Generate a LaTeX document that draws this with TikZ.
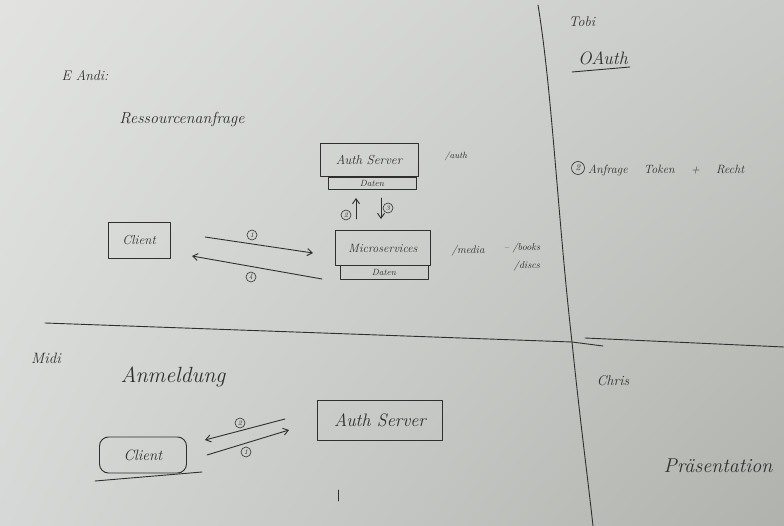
\documentclass[tikz,border=0pt]{standalone}
\usetikzlibrary{arrows.meta,shapes.misc,shadings}
\definecolor{paperA}{HTML}{E2E3E1}
\definecolor{paperB}{HTML}{C9CBC8}
\definecolor{paperC}{HTML}{D5D8D6}
\definecolor{paperD}{HTML}{B0B2AD}
\definecolor{pen}{HTML}{2E2F2E}
\newcommand{\fs}[1]{\fontsize{#1}{#1}\selectfont\itshape}
\begin{document}
\begin{tikzpicture}[x=1pt,y=-1pt,
  ink/.style={draw=pen,line width=0.9pt,line cap=round,line join=round},
  txt/.style={text=pen,inner sep=1pt},
  boxn/.style={ink,rectangle,inner sep=0pt,text=pen},
  num/.style={ink,circle,inner sep=0.5pt,minimum size=10pt,text=pen,font=\fs{7},line width=0.6pt},
  arr/.style={ink,-{Straight Barb[length=5pt,width=7pt]}}]
% paper
\shade[upper left=paperA,upper right=paperB,lower left=paperC,lower right=paperD]
  (0,0) rectangle (784,526);
\useasboundingbox (0,0) rectangle (784,526);
% dividers
\draw[ink] (45,323) -- (572,342) -- (603,346);
\draw[ink] (585,338) -- (784,347);
\draw[ink] (538,5) .. controls (552,90) and (558,220) .. (572,342) .. controls (580,420) and (588,480) .. (593,526);
% ---- top left: Andi
\node[txt,font=\fs{14}] (andi) at (85,76) {E Andi:};
\node[txt,font=\fs{16}] (ress) at (182,120) {Ressourcenanfrage};
% auth server (top)
\node[boxn,minimum width=98pt,minimum height=33pt,font=\fs{13}] (auth1) at (369,160) {Auth Server};
\node[boxn,minimum width=88pt,minimum height=12pt,font=\fs{9}] (daten1) at (372,183) {Daten};
\node[txt,font=\fs{9}] (authpath) at (456,156) {/auth};
% microservices
\node[boxn,minimum width=95pt,minimum height=35pt,font=\fs{12}] (micro) at (383,248) {Microservices};
\node[boxn,minimum width=88pt,minimum height=14pt,font=\fs{9}] (daten2) at (384,272) {Daten};
\node[txt,font=\fs{11}] (media) at (468,251) {/media};
\node[txt,font=\fs{10}] (books) at (522,248) {-- /books};
\node[txt,font=\fs{10}] (discs) at (527,266) {/discs};
% vertical arrows between micro and auth
\coordinate (upS) at (356,219);
\coordinate (upE) at (356,198);
\coordinate (dnS) at (381,198);
\coordinate (dnE) at (381,219);
\draw[arr] (upS) -- (upE);
\draw[arr] (dnS) -- (dnE);
\node[num] (n2a) at (346,215) {2};
\node[num] (n3a) at (388,208) {3};
% client (top)
\node[boxn,minimum width=62pt,minimum height=36pt,font=\fs{13}] (client1) at (139,240) {Client};
\coordinate (a1S) at (205,237);
\coordinate (a1E) at (313,253);
\coordinate (a4S) at (322,279);
\coordinate (a4E) at (192,256);
\draw[arr] (a1S) -- (a1E);
\draw[arr] (a4S) -- (a4E);
\node[num] (n1a) at (252,235) {1};
\node[num] (n4a) at (251,277) {4};
% ---- top right: Tobi
\node[txt,font=\fs{14}] (tobi) at (582,22) {Tobi};
\node[txt,font=\fs{18}] (oauth) at (603,58) {OAuth};
\coordinate (ulS) at (572,72);
\coordinate (ulE) at (630,67);
\draw[ink] (ulS) -- (ulE);
\node[num,minimum size=13pt,font=\fs{9}] (n2b) at (578,168) {2};
\node[txt,font=\fs{12},anchor=west] (anfrage) at (587,170) {Anfrage \quad Token \quad + \quad Recht};
% ---- bottom left: Midi
\node[txt,font=\fs{15}] (midi) at (46,358) {Midi};
\node[txt,font=\fs{22}] (anm) at (173,377) {Anmeldung};
\node[boxn,rounded corners=9pt,minimum width=87pt,minimum height=36pt,font=\fs{15}] (client2) at (143,455) {Client};
\coordinate (clS) at (95,481);
\coordinate (clE) at (202,472);
\draw[ink] (clS) -- (clE);
\node[boxn,minimum width=125pt,minimum height=40pt,font=\fs{18}] (auth2) at (380,420) {Auth Server};
\coordinate (b2S) at (285,419);
\coordinate (b2E) at (205,440);
\coordinate (b1S) at (207,455);
\coordinate (b1E) at (289,430);
\draw[arr] (b2S) -- (b2E);
\draw[arr] (b1S) -- (b1E);
\node[num] (n2c) at (240,423) {2};
\node[num] (n1c) at (246,452) {1};
\coordinate (tickS) at (338,490);
\coordinate (tickE) at (338,501);
\draw[ink,line width=0.7pt] (tickS) -- (tickE);
% ---- bottom right: Chris
\node[txt,font=\fs{14}] (chris) at (613,381) {Chris};
\node[txt,font=\fs{20}] (praes) at (718,466) {Präsentation};
\end{tikzpicture}
\end{document}
